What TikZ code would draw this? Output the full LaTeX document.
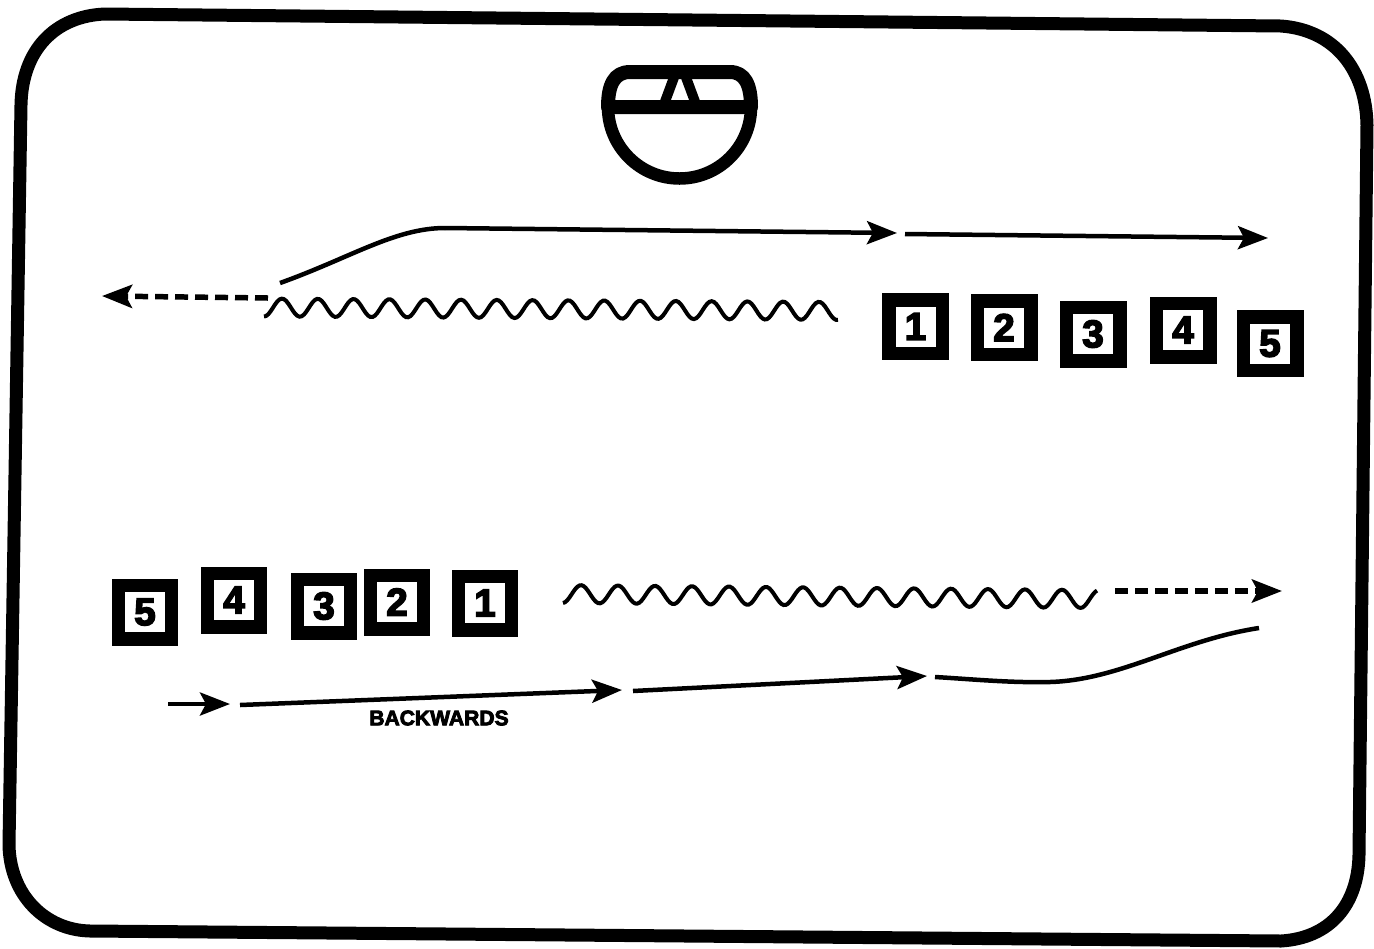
\documentclass[tikz,border=0pt]{standalone}
\usepackage{fontspec}
\setmainfont{Liberation Sans}
\newfontfamily\heavyfont[BoldFeatures={FakeBold=4}]{Liberation Sans}
\usetikzlibrary{arrows.meta}

\begin{document}
\begin{tikzpicture}[x=0.02cm, y=-0.02cm,
    numbox/.style={draw, rectangle, line width=0.27cm, minimum size=1.07cm, inner sep=0pt, outer sep=0pt, font=\heavyfont\bfseries\fontsize{22}{22}\selectfont},
    flow/.style={line width=0.09cm, -{Stealth[length=0.6cm, width=0.46cm, inset=0.12cm]}},
    plain/.style={line width=0.09cm},
    dashflow/.style={flow, line width=0.11cm, dash pattern=on 0.26cm off 0.14cm},
    wavy/.style={line width=0.08cm, smooth, samples=260}]
    \useasboundingbox (0,0) rectangle (1374,948);

    % frame
    \draw [line width=0.26cm, line join=round] (105,14) -- (1281,26) .. controls (1335,30) and (1366,70) .. (1367,125) -- (1359,855) .. controls (1358,905) and (1330,938) .. (1281,941) -- (90,931) .. controls (45,930) and (10,895) .. (9,845) -- (21,105) .. controls (22,50) and (55,16) .. (105,14) -- cycle;

    % face
    \draw [line width=0.25cm, line join=round] (608,107) arc [start angle=180, end angle=0, radius=71.5];
    \draw [line width=0.28cm, line join=round] (608,107) .. controls (608,85) and (614,72) .. (630,72) -- (730,72) .. controls (745,72) and (751,85) .. (751,107) -- cycle;
    \draw [line width=0.2cm] (663,107) -- (676,72);
    \draw [line width=0.2cm] (697,107) -- (684,72);

    % upper row
    \foreach \i/\x/\y in {1/915.5/326.5, 2/1004/327.5, 3/1093/334, 4/1183/330, 5/1270/343.5} {
        \node (up\i) at (\x,\y) [numbox] {\i};
    }
    \coordinate (ua) at (280,283);
    \coordinate (ub) at (445,228);
    \coordinate (uc) at (897,233);
    \coordinate (ud) at (905,234);
    \coordinate (ue) at (1268,238);
    \coordinate (uf) at (268,298);
    \coordinate (ug) at (102,296);
    \draw [plain] (ua) .. controls (350,258) and (395,228) .. (ub);
    \draw [flow] (ub) -- (uc);
    \draw [flow] (ud) -- (ue);
    \draw [dashflow] (uf) -- (ug);
    \draw [wavy] plot [domain=264:838] ({\x}, {307.5+(\x-264)*0.006-9*cos(10.056*(\x-282))});

    % lower row
    \foreach \i/\x/\y in {5/145/612, 4/234/600, 3/324/606, 2/397/602, 1/485/603} {
        \node (lo\i) at (\x,\y) [numbox] {\i};
    }
    \coordinate (lc) at (1115,591);
    \coordinate (ld) at (1282,591);
    \coordinate (le) at (1259,628);
    \coordinate (lf) at (935,677);
    \coordinate (lg) at (927,676);
    \coordinate (lh) at (633,691);
    \coordinate (li) at (622,690);
    \coordinate (lj) at (240,705);
    \coordinate (lk) at (230,704);
    \coordinate (ll) at (168,704);
    \draw [wavy] plot [domain=563:1097] ({\x}, {594+(\x-563)*0.0095-9*cos(9.73*(\x-581))});
    \draw [dashflow] (lc) -- (ld);
    \draw [plain] (le) .. controls (1180,640) and (1120,680) .. (1050,682) .. controls (1010,683) and (970,679) .. (lf);
    \draw [flow] (lh) -- (lg);
    \draw [flow] (lj) -- (li);
    \draw [flow] (ll) -- (lk);
    \node (back) at (439,718) [font=\heavyfont\bfseries\fontsize{12}{12}\selectfont] {BACKWARDS};
\end{tikzpicture}
\end{document}
